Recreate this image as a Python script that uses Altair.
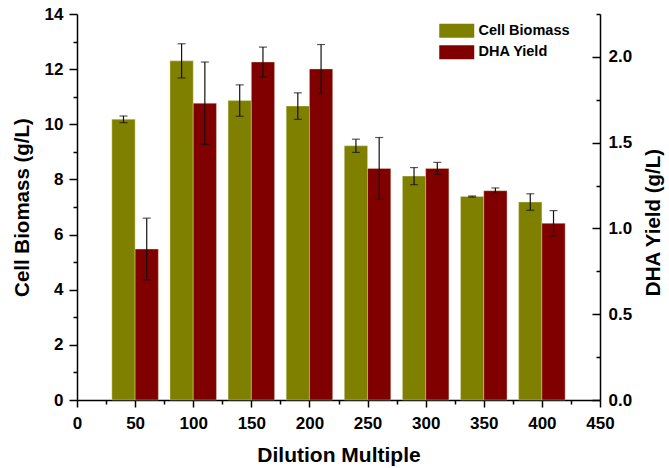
import altair as alt
import pandas as pd

# ---- data ----
dilution = [50, 100, 150, 200, 250, 300, 350, 400]
biomass = [10.18, 12.30, 10.86, 10.66, 9.22, 8.12, 7.38, 7.18]
biomass_err = [0.12, 0.62, 0.57, 0.48, 0.24, 0.31, 0.02, 0.30]
dha = [0.88, 1.73, 1.97, 1.93, 1.35, 1.35, 1.22, 1.03]
dha_err = [0.18, 0.24, 0.087, 0.142, 0.18, 0.035, 0.016, 0.074]
series = ["Cell Biomass", "DHA Yield"]
colors = ["#808000", "#800000"]

x_major = list(range(0, 451, 50))
x_minor = list(range(25, 451, 50))
left_major = list(range(0, 15, 2))
left_minor = list(range(1, 15, 2))
right_major = [0.0, 0.5, 1.0, 1.5, 2.0]
right_minor = [0.25, 0.75, 1.25, 1.75, 2.25]

bio_df = pd.DataFrame({"dilution": dilution, "value": biomass, "err": biomass_err, "series": series[0]})
dha_df = pd.DataFrame({"dilution": dilution, "value": dha, "err": dha_err, "series": series[1]})

FONT = "Liberation Sans"
W, H = 523, 386

x_scale = alt.Scale(domain=[0, 450], nice=False, zero=False)
left_scale = alt.Scale(domain=[0, 14], nice=False, zero=True)
right_scale = alt.Scale(domain=[0, 2.25], nice=False, zero=True)

x_axis = alt.Axis(title="Dilution Multiple", orient="bottom", values=x_major, tickSize=7,
                  labelFlush=False, labelPadding=8, labelFontSize=17, titleFontSize=21,
                  titlePadding=13)
x_minor_axis = alt.Axis(title=None, orient="bottom", values=x_minor, tickSize=4,
                        labels=False, domain=False)
left_axis = alt.Axis(title="Cell Biomass (g/L)", orient="left", values=left_major, tickSize=8,
                     labelFlush=False, labelPadding=6, labelFontSize=17, titleFontSize=20.5,
                     titlePadding=12)
left_minor_axis = alt.Axis(title=None, orient="left", values=left_minor, tickSize=4,
                           labels=False, domain=False)
right_axis = alt.Axis(title="DHA Yield (g/L)", orient="right", values=right_major, format=".1f",
                      ticks=False, labelFlush=False, labelPadding=8, labelFontSize=17,
                      titleFontSize=20.5, titleAngle=270, titlePadding=32, titleY=H / 2 + 15)
right_tick_axis = alt.Axis(title=None, orient="left", offset=-W, values=right_major, tickSize=8,
                           labels=False, domain=False)
right_minor_axis = alt.Axis(title=None, orient="left", offset=-W, values=right_minor, tickSize=4,
                            labels=False, domain=False)

color = alt.Color(
    "series:N",
    scale=alt.Scale(domain=series, range=colors),
    legend=alt.Legend(
        title=None, orient="none", legendX=372.5, legendY=9.5,
        symbolType="M-2.5,-1H2.5V1H-2.5Z", symbolSize=196, symbolStrokeWidth=0,
        symbolOpacity=1, labelOffset=14.5, labelFontSize=14.5, labelFont=FONT,
        labelFontWeight="bold", rowPadding=5.5, padding=0,
    ),
)


def series_layers(df, lo, hi, yscale, yaxis, xaxis):
    base = alt.Chart(df).transform_calculate(
        x0=f"datum.dilution + ({lo})",
        x1=f"datum.dilution + ({hi})",
        xc=f"datum.dilution + ({(lo + hi) / 2})",
        ylo="datum.value - datum.err",
        yhi="datum.value + datum.err",
    )
    bars = base.mark_bar(stroke="#e6e6c0", strokeWidth=0.4).encode(
        x=alt.X("x0:Q", scale=x_scale, axis=xaxis),
        x2="x1:Q",
        y=alt.Y("value:Q", scale=yscale, axis=yaxis),
        y2=alt.datum(0),
        color=color,
    )
    rule = base.mark_rule(color="#111111", strokeWidth=1.2).encode(
        x=alt.X("xc:Q", scale=x_scale, axis=None),
        y=alt.Y("ylo:Q", scale=yscale, axis=None),
        y2="yhi:Q",
    )
    cap_lo = base.mark_tick(orient="horizontal", size=8, thickness=1.2, color="#111111").encode(
        x=alt.X("xc:Q", scale=x_scale, axis=None),
        y=alt.Y("ylo:Q", scale=yscale, axis=None),
    )
    cap_hi = base.mark_tick(orient="horizontal", size=8, thickness=1.2, color="#111111").encode(
        x=alt.X("xc:Q", scale=x_scale, axis=None),
        y=alt.Y("yhi:Q", scale=yscale, axis=None),
    )
    return [bars, rule, cap_lo, cap_hi]


def axis_layer(df, xaxis, yscale, yaxis):
    return alt.Chart(df).mark_point(opacity=0, size=1).encode(
        x=alt.X("dilution:Q", scale=x_scale, axis=xaxis),
        y=alt.Y("value:Q", scale=yscale, axis=yaxis),
    )


layers = (
    series_layers(bio_df, -20, 0, left_scale, left_axis, x_axis)
    + series_layers(dha_df, 0, 20, right_scale, right_axis, None)
    + [
        axis_layer(bio_df, x_minor_axis, left_scale, None),
        axis_layer(bio_df, None, left_scale, left_minor_axis),
        axis_layer(dha_df, None, right_scale, right_tick_axis),
        axis_layer(dha_df, None, right_scale, right_minor_axis),
    ]
)

chart = (
    alt.layer(*layers)
    .resolve_scale(y="independent")
    .resolve_axis(x="independent", y="independent")
    .properties(
        width=W, height=H,
        autosize=alt.AutoSizeParams(type="none"),
        padding={"left": 77, "top": 14, "right": 69, "bottom": 68},
        background="white",
    )
    .configure_view(stroke=None)
    .configure_axis(
        labelFont=FONT, titleFont=FONT, labelFontWeight="bold", titleFontWeight="bold",
        labelColor="black", titleColor="black", domainColor="black", tickColor="black",
        domainWidth=1.5, tickWidth=1.5, grid=False,
    )
)

chart.save("out.html", embed_options={"renderer": "svg", "actions": False})
